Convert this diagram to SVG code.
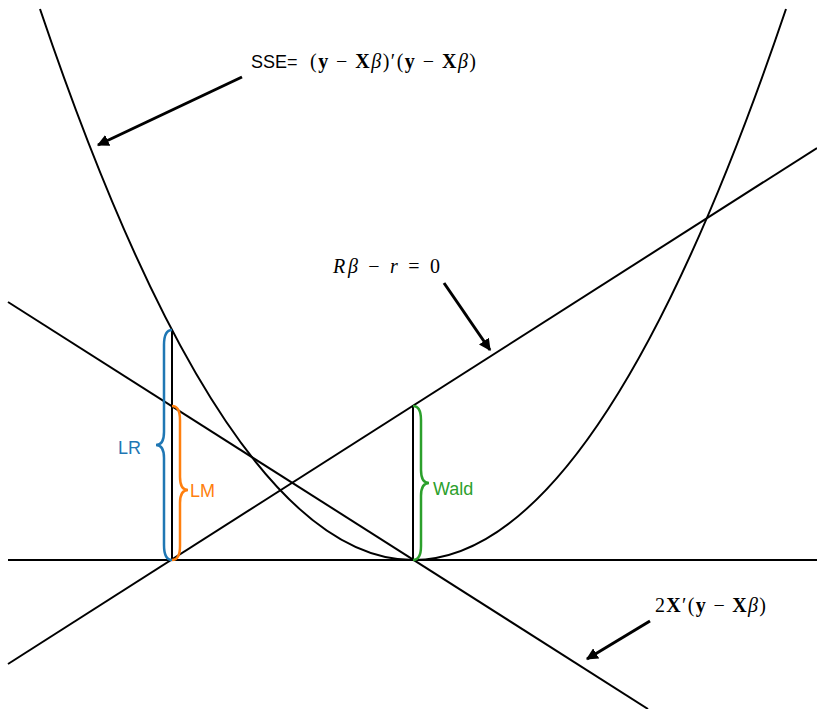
<svg xmlns="http://www.w3.org/2000/svg" width="817" height="709" viewBox="0 0 817 709">
<style>
.ln{fill:none;stroke:#000;stroke-width:2}
.ar{fill:none;stroke:#000;stroke-width:3}
.br{fill:none;stroke-width:2.5}
.sans{font-family:"Liberation Sans",Arial,sans-serif;font-size:18px}
.m{font-family:"Liberation Serif","Times New Roman",serif;font-size:20px}
.i{font-style:italic}
.b{font-weight:bold}
</style>
<defs>
<marker id="ah" viewBox="0 0 10 10" refX="9" refY="5" markerWidth="4" markerHeight="4" orient="auto" markerUnits="strokeWidth">
<path d="M0,0 L10,5 L0,10 z" fill="#000"/>
</marker>
</defs>
<rect width="817" height="709" fill="#fff"/>
<g id="curves">
<path class="ln" d="M40,9 Q413,1111 786,9"/>
<line class="ln" x1="8" y1="560" x2="817" y2="560"/>
<line class="ln" x1="8" y1="302" x2="648" y2="709"/>
<line class="ln" x1="8" y1="664" x2="817" y2="148"/>
<line class="ln" x1="172" y1="330" x2="172" y2="560"/>
<line class="ln" x1="413" y1="406" x2="413" y2="560"/>
</g>
<g id="connectors">
<line class="ar" x1="242" y1="77" x2="98" y2="145" marker-end="url(#ah)"/>
<line class="ar" x1="444" y1="283" x2="490" y2="350" marker-end="url(#ah)"/>
<line class="ar" x1="650" y1="621" x2="587" y2="659" marker-end="url(#ah)"/>
</g>
<g id="LR">
<path class="br" stroke="#1f77b4" d="M172,330 Q164,330 164,345 L164,432 Q164,445 156,445 Q164,445 164,458 L164,545 Q164,560 172,560"/>
<text class="sans" x="118" y="454" fill="#1f77b4">LR</text>
</g>
<g id="LM">
<path class="br" stroke="#ff7f0e" d="M172,406 Q180,406 180,420 L180,477 Q180,490 188,490 Q180,490 180,503 L180,546 Q180,560 172,560"/>
<text class="sans" x="190" y="497" fill="#ff7f0e">LM</text>
</g>
<g id="Wald">
<path class="br" stroke="#2ca02c" d="M413,406 Q421,406 421,420 L421,470 Q421,483 429,483 Q421,483 421,496 L421,546 Q421,560 413,560"/>
<text class="sans" x="433" y="495" fill="#2ca02c">Wald</text>
</g>
<g id="labels">
<text class="sans" x="251" y="68">SSE=</text>
<text class="m" x="310" y="68" textLength="166" lengthAdjust="spacing">(<tspan class="b">y</tspan> − <tspan class="b">X</tspan><tspan class="i">β</tspan>)′(<tspan class="b">y</tspan> − <tspan class="b">X</tspan><tspan class="i">β</tspan>)</text>
<text class="m" x="333" y="273" textLength="107" lengthAdjust="spacing"><tspan class="i">R</tspan><tspan class="i">β</tspan> − <tspan class="i">r</tspan> = 0</text>
<text class="m" x="655" y="612" textLength="111" lengthAdjust="spacing">2<tspan class="b">X</tspan>′(<tspan class="b">y</tspan> − <tspan class="b">X</tspan><tspan class="i">β</tspan>)</text>
</g>
</svg>
